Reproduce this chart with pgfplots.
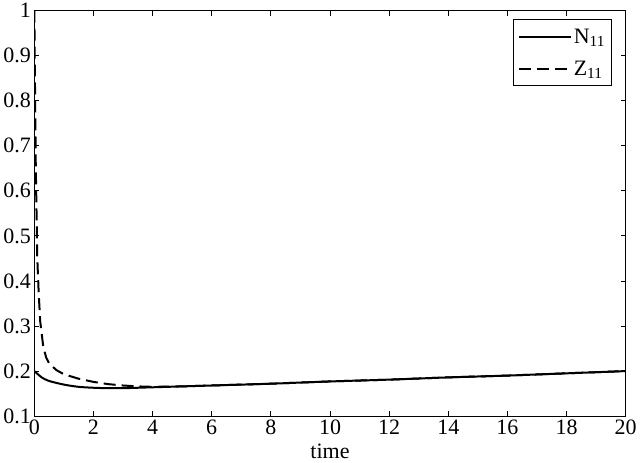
\documentclass[border=0pt]{standalone}
\usepackage{fontspec}
\setmainfont{Liberation Serif}
\usepackage{pgfplots}
\pgfplotsset{compat=1.18}
\begin{document}
\begin{tikzpicture}
\begin{axis}[
  scale only axis,
  width=592pt, height=406pt,
  xmin=0, xmax=20, ymin=0.1, ymax=1,
  xtick={0,2,...,20},
  ytick={0.1,0.2,0.3,0.4,0.5,0.6,0.7,0.8,0.9,1},
  yticklabels={0.1,0.2,0.3,0.4,0.5,0.6,0.7,0.8,0.9,1},
  tick align=inside,
  major tick length=5pt,
  axis line style={line width=1pt},
  tick style={line width=0.8pt, black},
  /pgf/number format/assume math mode=true,
  ticklabel style={font=\fontsize{22}{24}\selectfont},
  xlabel={time},
  xlabel style={font=\fontsize{22}{24}\selectfont, yshift=-3pt},
  legend style={at={(rel axis cs:0.976,0.978)}, anchor=north east,
    font=\fontsize{22}{24}\selectfont, draw=black, line width=1pt,
    inner xsep=4pt, inner ysep=7pt, row sep=12pt},
  legend cell align=left,
  legend image code/.code={\draw[#1, line width=2pt] (0pt,0pt) -- (52pt,0pt);},
]
\addplot[black, line width=2pt, smooth] coordinates {
(0,0.200) (0.25,0.186) (0.5,0.178) (1,0.170) (1.5,0.165) (2,0.163) (2.5,0.162) (3,0.162) (3.5,0.163) (4,0.164) (5,0.166) (6,0.168) (8,0.172) (10,0.177) (12,0.181) (14,0.186) (16,0.190) (18,0.195) (20,0.200)
};
\addlegendentry{N\textsubscript{11}}
\addplot[black, line width=2pt, dash pattern=on 12pt off 6pt] coordinates {
(0,1.0) (0.02,0.85) (0.05,0.65) (0.1,0.45) (0.15,0.37) (0.2,0.31) (0.3,0.255) (0.4,0.230) (0.5,0.217) (0.75,0.202) (1,0.193) (1.5,0.183) (2,0.176) (2.5,0.171) (3,0.168) (3.5,0.166) (4,0.165) (5,0.166) (6,0.168) (8,0.172) (10,0.177) (12,0.181) (14,0.186) (16,0.190) (18,0.195) (20,0.200)
};
\addlegendentry{Z\textsubscript{11}}
\end{axis}
\end{tikzpicture}
\end{document}
